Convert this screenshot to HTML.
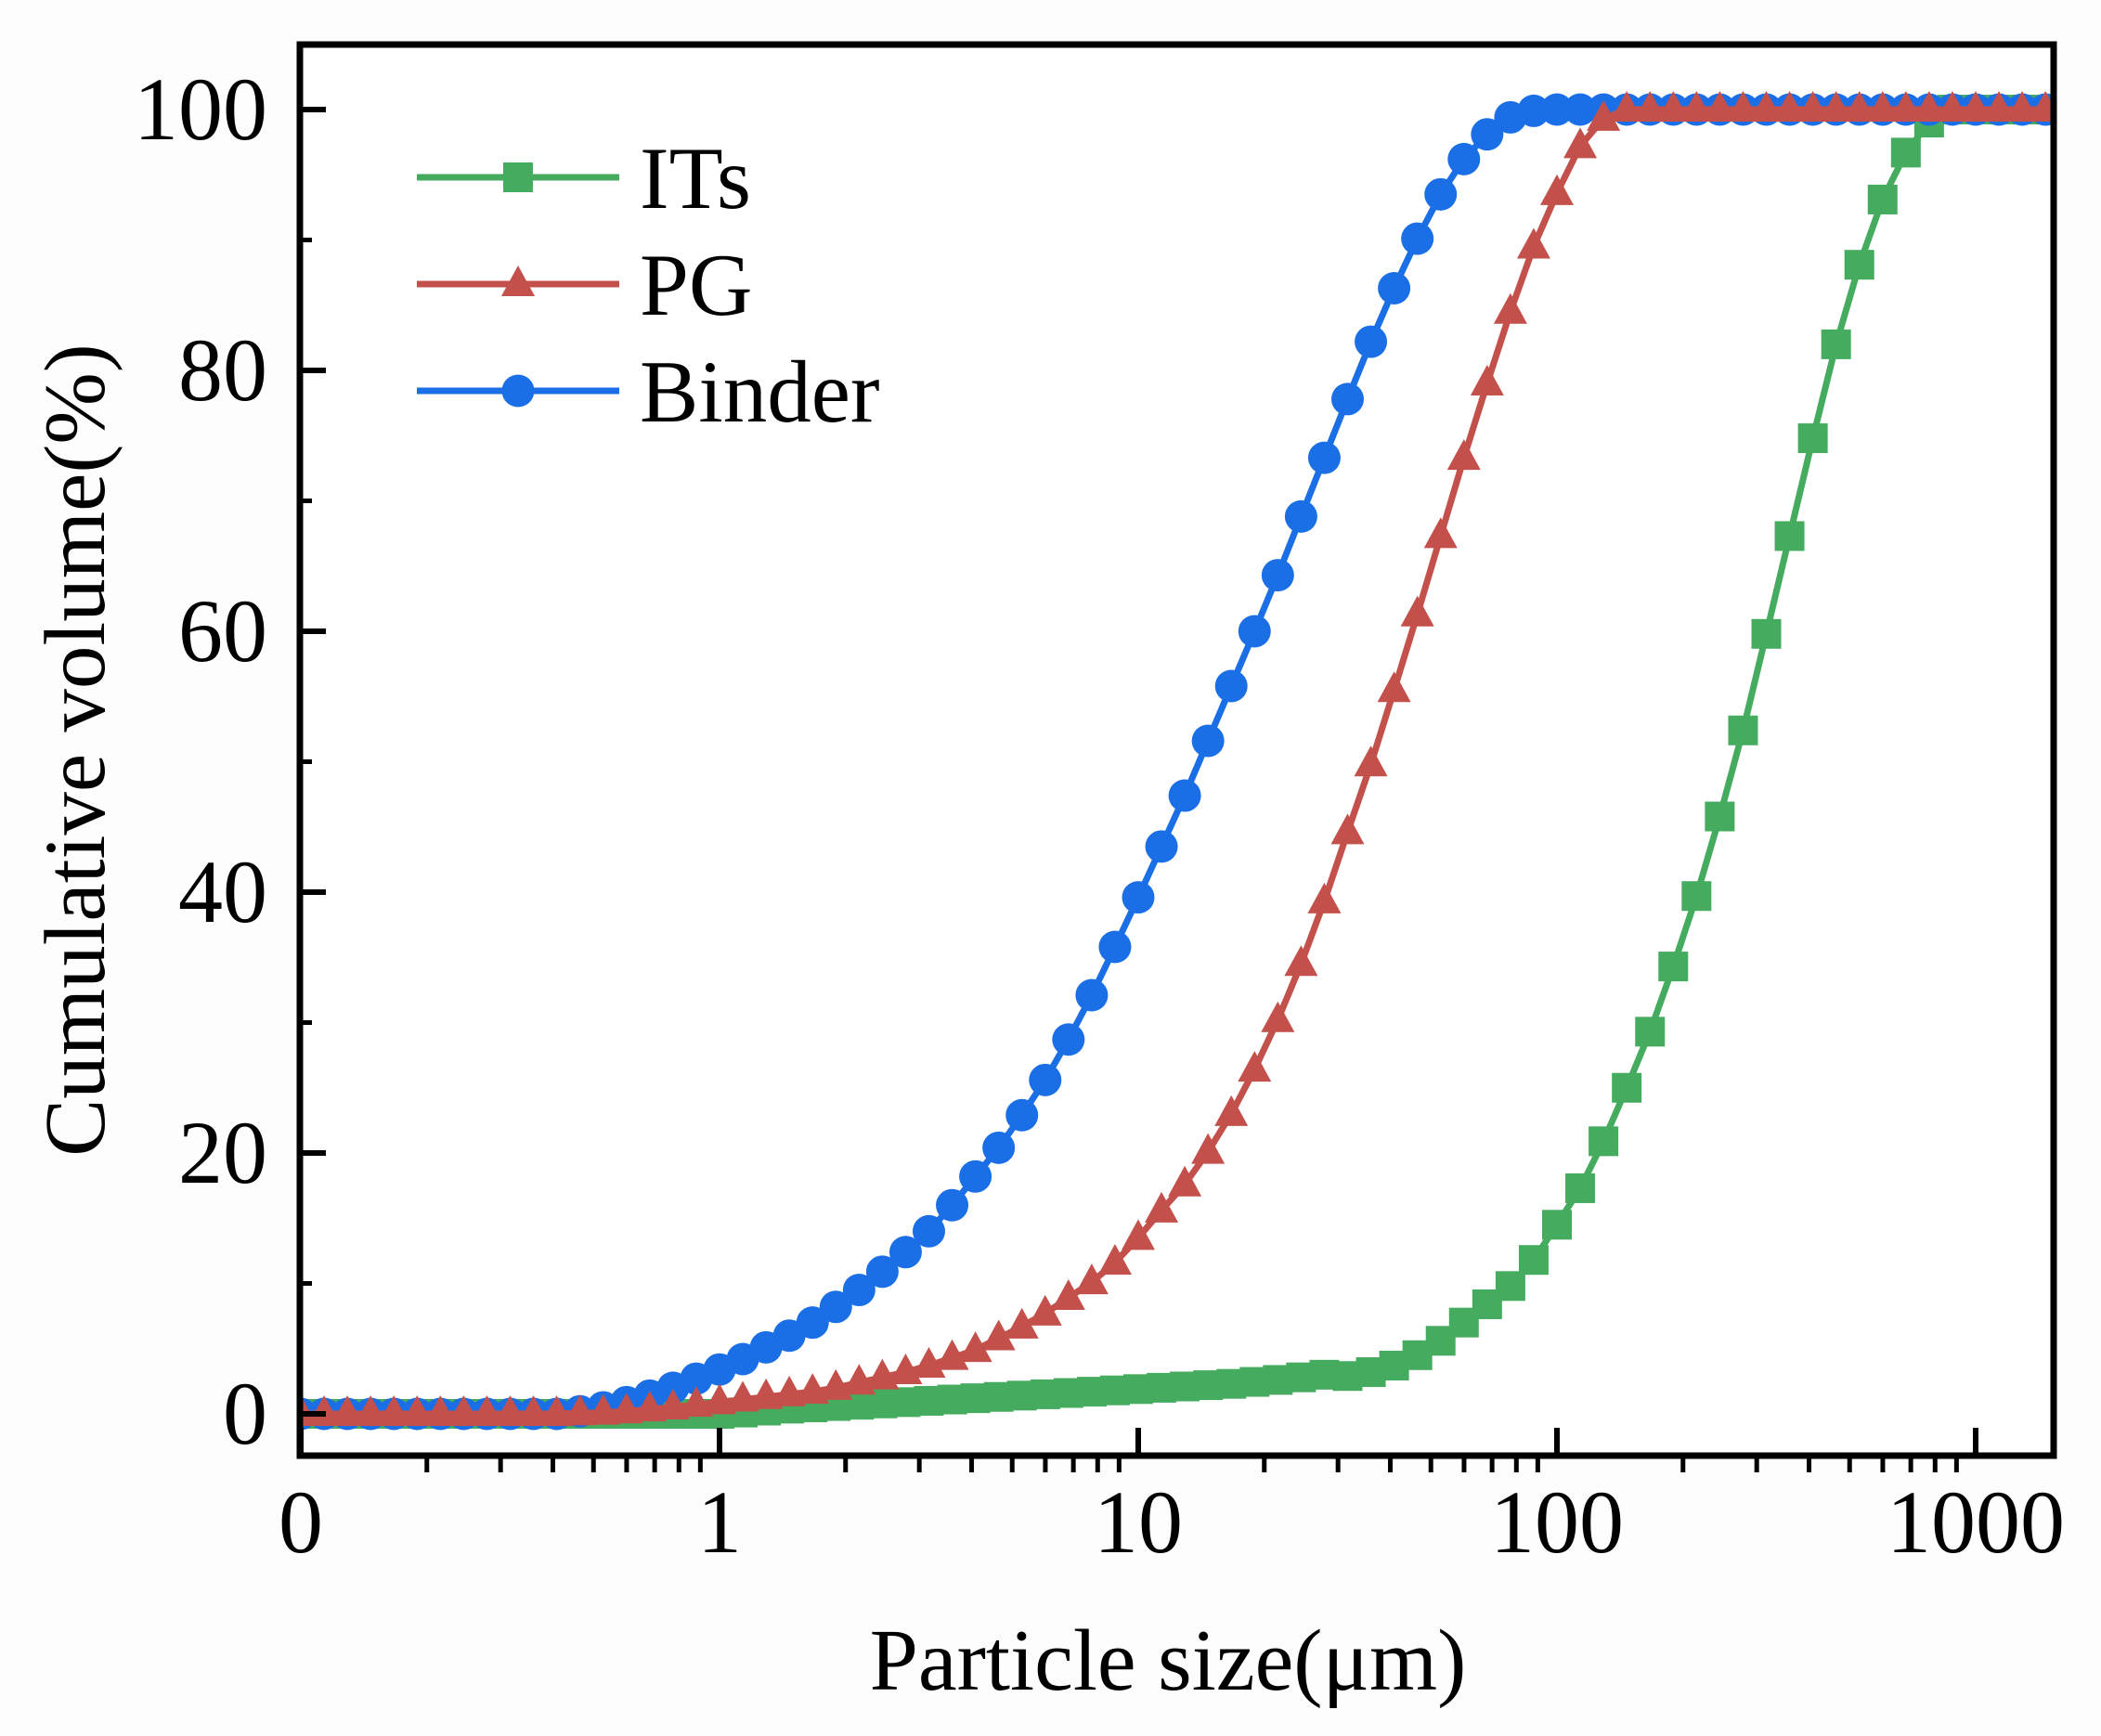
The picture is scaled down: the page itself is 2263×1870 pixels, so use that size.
<!DOCTYPE html>
<html><head><meta charset="utf-8"><style>
html,body{margin:0;padding:0;background:#fdfdfd;}
svg{display:block;font-family:"Liberation Serif",serif;}
</style></head><body>
<svg id="chart" width="2263" height="1870" viewBox="0 0 2263 1870" xmlns="http://www.w3.org/2000/svg">
<rect x="0" y="0" width="2263" height="1870" fill="#fdfdfd"/>
<defs><clipPath id="plotclip"><rect x="326" y="51" width="1883" height="1514"/></clipPath></defs>
<rect x="323" y="48" width="1889" height="1520" fill="#ffffff"/>
<g id="series" clip-path="url(#plotclip)"></g>
<g id="axes"></g>
<text x="1258" y="1820" font-size="94" text-anchor="middle">Particle size(μm)</text>
<text transform="translate(112,808) rotate(-90)" font-size="93" text-anchor="middle">Cumulative volume(%)</text>
<g id="legend"></g>
</svg>
<script>
// Bin sizes (µm): 18 bins per decade starting at 0.1
const binIndex = [0,1,2,3,4,5,6,7,8,9,10,11,12,13,14,15,16,17,18,19,20,21,22,23,24,25,26,27,28,29,30,31,32,33,34,35,36,37,38,39,40,41,42,43,44,45,46,47,48,49,50,51,52,53,54,55,56,57,58,59,60,61,62,63,64,65,66,67,68,69,70,71,72,73,74,75];
const binsPerDecade = 18;
const binStart = 0.1;
const itsValues = [0,0,0,0,0,0,0,0,0,0,0,0,0,0,0,0,0,0,0,0.1,0.25,0.4,0.5,0.6,0.7,0.8,0.9,1.0,1.1,1.2,1.3,1.4,1.5,1.6,1.7,1.8,1.9,2.0,2.1,2.2,2.3,2.45,2.6,2.8,3.0,2.9,3.2,3.7,4.5,5.6,7.0,8.4,9.8,11.8,14.5,17.3,20.9,25.0,29.3,34.3,39.7,45.8,52.4,59.8,67.3,74.8,82.0,88.1,93.1,96.7,99.0,100,100,100,100,100];
const pgValues = [0,0,0,0,0,0,0,0,0,0,0,0,0.05,0.1,0.2,0.35,0.5,0.7,0.9,1.1,1.3,1.5,1.7,2.0,2.4,2.8,3.2,3.7,4.3,4.9,5.8,6.7,7.7,8.9,10.1,11.6,13.5,15.6,17.6,20.1,23.0,26.4,30.2,34.5,39.3,44.6,49.8,55.5,61.3,67.3,73.3,79.0,84.5,89.5,93.6,97.2,99.3,100,100,100,100,100,100,100,100,100,100,100,100,100,100,100,100,100,100,100];
const binderValues = [0,0,0,0,0,0,0,0,0,0,0,0,0.2,0.5,0.9,1.4,2.0,2.7,3.4,4.2,5.1,6.0,7.0,8.2,9.5,10.9,12.4,14.0,16.0,18.2,20.4,22.9,25.6,28.7,32.1,35.8,39.6,43.5,47.4,51.6,55.8,60.0,64.3,68.8,73.3,77.8,82.2,86.3,90.1,93.5,96.2,98.1,99.4,99.9,100,100,100,100,100,100,100,100,100,100,100,100,100,100,100,100,100,100,100,100,100,100];
const xTickValues = [0.1,1,10,100,1000];
const xTickLabels = ["0","1","10","100","1000"];
const yTickValues = [0,20,40,60,80,100];
const yTickLabels = ["0","20","40","60","80","100"];
const yMinorValues = [10,30,50,70,90];

const NS = "http://www.w3.org/2000/svg";
const X0 = 324, DEC = 451, Y0 = 1523, YU = 14.05, BOTTOM = 1568, LEFT = 323, TOP = 48, RIGHT = 2212;
function xs(v){ return X0 + DEC*Math.log10(v/0.1); }
function ys(v){ return Y0 - YU*v; }
function binSize(i){ return binStart*Math.pow(10, i/binsPerDecade); }
function mk(tag, attrs, parent){ const e=document.createElementNS(NS,tag); for(const k in attrs) e.setAttribute(k,attrs[k]); parent.appendChild(e); return e; }

const series = document.getElementById('series');
const axes = document.getElementById('axes');
const legend = document.getElementById('legend');

function marker(shape, cx, cy, color, parent){
  let el;
  if(shape==='square'){
    el = mk('rect',{x:cx-16,y:cy-16,width:32,height:32,fill:color},parent);
  } else if(shape==='triangle'){
    el = mk('polygon',{points:`${cx},${cy-20} ${cx-18},${cy+13} ${cx+18},${cy+13}`,fill:color},parent);
  } else {
    el = mk('circle',{cx:cx,cy:cy,r:17.5,fill:color},parent);
  }
  return el;
}

const defs = [
  {key:'its', name:'ITs', vals:itsValues, color:'#45ac5f', shape:'square'},
  {key:'binder', name:'Binder', vals:binderValues, color:'#1b6fe6', shape:'circle'},
  {key:'pg', name:'PG', vals:pgValues, color:'#c4504b', shape:'triangle'}
];
defs.forEach(s=>{
  const g = mk('g',{},series);
  
  
  const pts = binIndex.map((b,i)=>[xs(binSize(b)), ys(s.vals[i])]);
  const line = mk('polyline',{points:pts.map(p=>p.join(',')).join(' '),fill:'none',stroke:s.color,'stroke-width':7,'stroke-linejoin':'round'},g);
  
  
  pts.forEach((p,i)=>{
    const m = marker(s.shape,p[0],p[1],s.color,g);
    
    
  });
});

const frame = mk('rect',{x:LEFT,y:TOP,width:RIGHT-LEFT,height:BOTTOM-TOP,fill:'none',stroke:'#000','stroke-width':7},axes);



xTickValues.forEach((v,i)=>{
  const x = xs(v);
  const t = mk('line',{x1:x,y1:BOTTOM,x2:x,y2:BOTTOM-30,stroke:'#000','stroke-width':6},axes);
  
  
  const lb = mk('text',{x:x,y:1672,'font-size':96,'text-anchor':'middle'},axes);
  lb.textContent = xTickLabels[i];
  
  
  for(let k=2;k<=9;k++){
    const mx = xs(v*k);
    if(mx>RIGHT-4) break;
    const mt = mk('line',{x1:mx,y1:BOTTOM,x2:mx,y2:BOTTOM+18,stroke:'#000','stroke-width':5},axes);
    
    
  }
});
yTickValues.forEach((v,i)=>{
  const y = ys(v);
  const t = mk('line',{x1:LEFT,y1:y,x2:LEFT+28,y2:y,stroke:'#000','stroke-width':6},axes);
  
  
  const lb = mk('text',{x:288,y:y+32,'font-size':96,'text-anchor':'end'},axes);
  lb.textContent = yTickLabels[i];
  
  
});
yMinorValues.forEach(v=>{
  const y = ys(v);
  const t = mk('line',{x1:LEFT,y1:y,x2:LEFT+13,y2:y,stroke:'#000','stroke-width':5},axes);
  
  
});

const legendOrder = [defs[0], defs[2], defs[1]];
legendOrder.forEach((s,i)=>{
  const y = 191 + i*115;
  const g = mk('g',{},legend);
  
  
  mk('line',{x1:449,y1:y,x2:667,y2:y,stroke:s.color,'stroke-width':7},g);
  marker(s.shape,558,y,s.color,g);
  const tx = mk('text',{x:689,y:y+33,'font-size':95},g);
  tx.textContent = s.name;
  
  
});
</script>
</body></html>
